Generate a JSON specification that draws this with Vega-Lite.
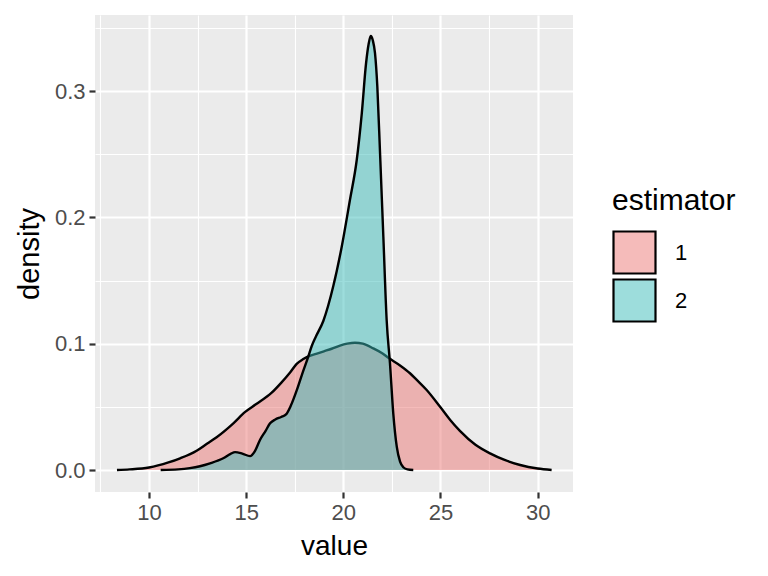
{
  "$schema": "https://vega.github.io/schema/vega-lite/v6.json",
  "width": 478,
  "height": 477,
  "autosize": {"type": "none"},
  "padding": {"left": 95, "top": 15, "right": 195, "bottom": 84},
  "background": "white",
  "config": {
    "view": {"fill": "#EBEBEB", "stroke": null},
    "font": "Liberation Sans"
  },
  "data": {
    "values": [
      {"estimator": "1", "value": 8.35, "density": 0},
      {"estimator": "1", "value": 9.0, "density": 0.0005},
      {"estimator": "1", "value": 10.0, "density": 0.002},
      {"estimator": "1", "value": 11.0, "density": 0.006},
      {"estimator": "1", "value": 11.6, "density": 0.0093},
      {"estimator": "1", "value": 12.45, "density": 0.0153},
      {"estimator": "1", "value": 13.0, "density": 0.021},
      {"estimator": "1", "value": 13.48, "density": 0.026},
      {"estimator": "1", "value": 14.34, "density": 0.037},
      {"estimator": "1", "value": 14.95, "density": 0.046},
      {"estimator": "1", "value": 15.5, "density": 0.052},
      {"estimator": "1", "value": 16.3, "density": 0.061},
      {"estimator": "1", "value": 16.8, "density": 0.069},
      {"estimator": "1", "value": 17.26, "density": 0.0772},
      {"estimator": "1", "value": 17.6, "density": 0.084},
      {"estimator": "1", "value": 17.94, "density": 0.0878},
      {"estimator": "1", "value": 18.2, "density": 0.0900},
      {"estimator": "1", "value": 18.6, "density": 0.092},
      {"estimator": "1", "value": 19.0, "density": 0.094},
      {"estimator": "1", "value": 19.4, "density": 0.096},
      {"estimator": "1", "value": 19.83, "density": 0.0985},
      {"estimator": "1", "value": 20.2, "density": 0.1},
      {"estimator": "1", "value": 20.6, "density": 0.1008},
      {"estimator": "1", "value": 21.0, "density": 0.1},
      {"estimator": "1", "value": 21.54, "density": 0.0963},
      {"estimator": "1", "value": 22.0, "density": 0.0925},
      {"estimator": "1", "value": 22.32, "density": 0.0888},
      {"estimator": "1", "value": 22.9, "density": 0.083},
      {"estimator": "1", "value": 23.43, "density": 0.0766},
      {"estimator": "1", "value": 23.78, "density": 0.0713},
      {"estimator": "1", "value": 24.29, "density": 0.0633},
      {"estimator": "1", "value": 24.98, "density": 0.05},
      {"estimator": "1", "value": 25.5, "density": 0.0396},
      {"estimator": "1", "value": 26.0, "density": 0.031},
      {"estimator": "1", "value": 26.8, "density": 0.02},
      {"estimator": "1", "value": 27.55, "density": 0.0132},
      {"estimator": "1", "value": 28.3, "density": 0.008},
      {"estimator": "1", "value": 29.1, "density": 0.004},
      {"estimator": "1", "value": 30.0, "density": 0.0012},
      {"estimator": "1", "value": 30.72, "density": 0},
      {"estimator": "2", "value": 10.6, "density": 0},
      {"estimator": "2", "value": 11.5, "density": 0.0005},
      {"estimator": "2", "value": 12.1, "density": 0.0015},
      {"estimator": "2", "value": 12.62, "density": 0.003},
      {"estimator": "2", "value": 13.14, "density": 0.0053},
      {"estimator": "2", "value": 13.82, "density": 0.0093},
      {"estimator": "2", "value": 14.2, "density": 0.0128},
      {"estimator": "2", "value": 14.43, "density": 0.0142},
      {"estimator": "2", "value": 14.8, "density": 0.013},
      {"estimator": "2", "value": 15.2, "density": 0.011},
      {"estimator": "2", "value": 15.45, "density": 0.015},
      {"estimator": "2", "value": 15.71, "density": 0.0238},
      {"estimator": "2", "value": 16.0, "density": 0.031},
      {"estimator": "2", "value": 16.23, "density": 0.037},
      {"estimator": "2", "value": 16.5, "density": 0.04},
      {"estimator": "2", "value": 16.8, "density": 0.042},
      {"estimator": "2", "value": 17.05, "density": 0.044},
      {"estimator": "2", "value": 17.3, "density": 0.051},
      {"estimator": "2", "value": 17.6, "density": 0.063},
      {"estimator": "2", "value": 17.86, "density": 0.075},
      {"estimator": "2", "value": 18.2, "density": 0.09},
      {"estimator": "2", "value": 18.37, "density": 0.098},
      {"estimator": "2", "value": 18.6, "density": 0.106},
      {"estimator": "2", "value": 18.97, "density": 0.118},
      {"estimator": "2", "value": 19.49, "density": 0.146},
      {"estimator": "2", "value": 19.92, "density": 0.177},
      {"estimator": "2", "value": 20.34, "density": 0.2138},
      {"estimator": "2", "value": 20.69, "density": 0.2454},
      {"estimator": "2", "value": 20.95, "density": 0.2824},
      {"estimator": "2", "value": 21.17, "density": 0.322},
      {"estimator": "2", "value": 21.3, "density": 0.337},
      {"estimator": "2", "value": 21.41, "density": 0.3436},
      {"estimator": "2", "value": 21.52, "density": 0.34},
      {"estimator": "2", "value": 21.63, "density": 0.33},
      {"estimator": "2", "value": 21.75, "density": 0.3035},
      {"estimator": "2", "value": 21.89, "density": 0.2507},
      {"estimator": "2", "value": 22.06, "density": 0.1847},
      {"estimator": "2", "value": 22.23, "density": 0.1188},
      {"estimator": "2", "value": 22.4, "density": 0.0845},
      {"estimator": "2", "value": 22.57, "density": 0.0449},
      {"estimator": "2", "value": 22.75, "density": 0.0185},
      {"estimator": "2", "value": 22.92, "density": 0.0066},
      {"estimator": "2", "value": 23.1, "density": 0.002},
      {"estimator": "2", "value": 23.3, "density": 0.0005},
      {"estimator": "2", "value": 23.6, "density": 0}
    ]
  },
  "encoding": {
    "x": {
      "field": "value",
      "type": "quantitative",
      "scale": {"domain": [7.22, 31.82], "nice": false, "zero": false},
      "axis": {
        "title": "value",
        "values": [7.5, 10, 12.5, 15, 17.5, 20, 22.5, 25, 27.5, 30],
        "labelExpr": "datum.value % 5 === 0 ? datum.label : ''",
        "domain": false,
        "grid": true,
        "gridColor": "white",
        "gridWidth": {"condition": {"test": "datum.value % 5 === 0", "value": 2.2}, "value": 1.1},
        "tickColor": {"condition": {"test": "datum.value % 5 === 0", "value": "#333333"}, "value": "transparent"},
        "tickSize": 6,
        "tickWidth": 2.2,
        "labelFont": "Liberation Sans",
        "labelFontSize": 22,
        "labelColor": "#4D4D4D",
        "labelPadding": 4,
        "labelFlush": false,
        "labelOverlap": false,
        "titleFont": "Liberation Sans",
        "titleFontSize": 28,
        "titleFontWeight": "normal",
        "titleColor": "black",
        "titlePadding": 9
      }
    },
    "y": {
      "field": "density",
      "type": "quantitative",
      "scale": {"domain": [-0.0174, 0.3602], "nice": false, "zero": false},
      "axis": {
        "title": "density",
        "values": [0, 0.05, 0.1, 0.15, 0.2, 0.25, 0.3, 0.35],
        "labelExpr": "abs(datum.value*10 - round(datum.value*10)) < 0.000001 ? format(datum.value, '.1f') : ''",
        "domain": false,
        "grid": true,
        "gridColor": "white",
        "gridWidth": {"condition": {"test": "abs(datum.value*10 - round(datum.value*10)) < 0.000001", "value": 2.2}, "value": 1.1},
        "tickColor": {"condition": {"test": "abs(datum.value*10 - round(datum.value*10)) < 0.000001", "value": "#333333"}, "value": "transparent"},
        "tickSize": 6,
        "tickWidth": 2.2,
        "labelFont": "Liberation Sans",
        "labelFontSize": 22,
        "labelColor": "#4D4D4D",
        "labelPadding": 4,
        "labelFlush": false,
        "labelOverlap": false,
        "titleFont": "Liberation Sans",
        "titleFontSize": 29,
        "titleFontWeight": "normal",
        "titleColor": "black",
        "titlePadding": 10
      }
    }
  },
  "layer": [
    {
      "transform": [{"filter": "datum.estimator === '1'"}],
      "mark": {"type": "area", "interpolate": "monotone"},
      "encoding": {
        "fill": {
          "field": "estimator",
          "type": "nominal",
          "scale": {"domain": ["1", "2"], "range": ["rgba(235,119,117,0.5)", "rgba(59,187,185,0.5)"]},
          "legend": {
            "title": "estimator",
            "orient": "none",
            "legendX": 517,
            "legendY": 171,
            "titleFont": "Liberation Sans",
            "titleFontSize": 30,
            "titleFontWeight": "normal",
            "titleColor": "black",
            "titlePadding": 14,
            "labelFont": "Liberation Sans",
            "labelFontSize": 22,
            "labelColor": "black",
            "labelOffset": 18,
            "symbolType": "square",
            "symbolSize": 1764,
            "symbolOpacity": 1,
            "symbolStrokeColor": "black",
            "symbolStrokeWidth": 2.2,
            "rowPadding": -11
          }
        }
      }
    },
    {
      "transform": [{"filter": "datum.estimator === '1'"}],
      "mark": {"type": "line", "interpolate": "monotone", "color": "black", "strokeWidth": 2.4},
      "encoding": {}
    },
    {
      "transform": [{"filter": "datum.estimator === '2'"}],
      "mark": {"type": "area", "interpolate": "monotone"},
      "encoding": {
        "fill": {"field": "estimator", "type": "nominal"}
      }
    },
    {
      "transform": [{"filter": "datum.estimator === '2'"}],
      "mark": {"type": "line", "interpolate": "monotone", "color": "black", "strokeWidth": 2.4},
      "encoding": {}
    }
  ]
}
